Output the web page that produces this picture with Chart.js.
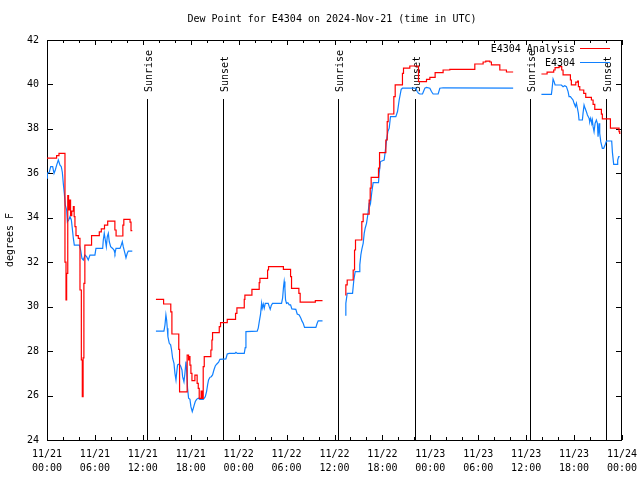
<!DOCTYPE html>
<html><head><meta charset="utf-8">
<script src="https://cdn.jsdelivr.net/npm/chart.js@4/dist/chart.umd.min.js"></script>
<style>html,body{margin:0;padding:0;background:#fff}#wrap{width:640px;height:480px}</style>
</head><body><div id="wrap"><canvas id="c" width="640" height="480"></canvas></div>
<script>
const TITLE = 'Dew Point for E4304 on 2024-Nov-21 (time in UTC)';
const Y_LABEL = 'degrees F';
const X_TICK_DATES = ['11/21','11/21','11/21','11/21','11/22','11/22','11/22','11/22','11/23','11/23','11/23','11/23','11/24'];
const X_TICK_TIMES = ['00:00','06:00','12:00','18:00','00:00','06:00','12:00','18:00','00:00','06:00','12:00','18:00','00:00'];
const SUN_HOURS = [12.48, 22.07, 36.46, 46.1, 60.53, 70.05];
const SUN_LABELS = ['Sunrise','Sunset','Sunrise','Sunset','Sunrise','Sunset'];
const SERIES_NAMES = ['E4304 Analysis', 'E4304'];
const GAP_HOURS = [12, 36, 60];

// hours since 11/21 00:00 UTC, dew point (F)
const analysisSeg1 = [[0,36.68],[1.2,36.8],[1.5,36.9],[2.25,32.0],[2.38,30.3],[2.46,31.5],[2.6,35.0],[2.7,34.35],[2.8,34.8],[2.95,34.1],[3.1,34.3],[3.3,34.5],[3.4,34.05],[3.5,33.6],[3.63,33.2],[3.92,33.07],[4.13,30.75],[4.3,27.6],[4.42,25.95],[4.52,27.7],[4.62,31.05],[4.74,32.77],[5.58,33.2],[6.55,33.37],[6.8,33.5],[7.2,33.67],[7.6,33.85],[8.5,33.45],[8.65,33.18],[9.5,33.67],[9.62,33.93],[10.4,33.8],[10.52,33.42],[10.68,33.42]];
const analysisSeg2 = [[13.64,30.33],[14.6,30.12],[15.5,29.77],[15.64,28.77],[16.5,28.08],[16.6,26.17],[17.55,27.82],[17.73,27.6],[17.81,27.75],[17.9,27.37],[18.02,27.0],[18.15,26.67],[18.52,26.92],[18.8,26.55],[18.94,26.32],[19.06,25.87],[19.3,26.2],[19.45,25.87],[19.56,27.3],[19.69,27.75],[20.52,28.05],[20.65,28.5],[20.73,28.83],[21.57,29.1],[21.73,29.28],[22.57,29.43],[23.61,29.7],[23.78,29.95],[24.7,30.33],[24.78,30.52],[25.66,30.78],[26.57,31.08],[26.66,31.27],[27.62,31.65],[27.74,31.8],[29.6,31.68],[30.5,31.35],[30.62,30.82],[31.54,30.6],[31.7,30.2],[33.6,30.27],[34.5,30.27]];
const analysisSeg3 = [[37.34,30.53],[37.42,30.98],[37.59,31.2],[38.34,31.65],[38.51,32.55],[38.63,33.0],[39.42,33.83],[39.59,34.16],[40.34,34.8],[40.47,35.33],[40.59,35.82],[41.51,36.23],[41.64,36.93],[42.43,37.5],[42.6,38.33],[42.72,38.67],[43.43,39.45],[43.6,39.98],[44.51,40.5],[44.64,40.73],[45.43,40.83],[46.52,40.13],[47.52,40.23],[47.94,40.32],[48.6,40.53],[49.6,40.65],[50.44,40.68],[53.57,40.92],[54.61,41.01],[54.94,41.05],[55.45,41.01],[55.65,40.88],[56.7,40.65],[57.53,40.56],[58.37,40.56]];
const analysisSeg4 = [[61.91,40.47],[62.62,40.55],[63.45,40.65],[63.62,40.76],[64.12,40.8],[64.45,40.65],[64.62,40.43],[65.54,40.2],[65.66,39.98],[66.21,40.1],[66.45,40.15],[66.54,39.9],[66.71,39.75],[67.21,39.6],[67.46,39.42],[68.17,39.3],[68.38,39.1],[68.59,38.88],[69.42,38.66],[69.54,38.45],[70.55,38.03],[71.63,37.88],[71.71,37.8],[71.8,37.8]];

const obsSeg1 = [[0,35.78],[0.04,36.0],[0.29,36.05],[0.46,36.3],[0.71,36.3],[0.88,36.0],[1.04,36.15],[1.21,36.37],[1.42,36.6],[1.63,36.37],[1.79,36.3],[1.92,36.05],[2.04,35.55],[2.17,35.1],[2.29,34.57],[2.46,34.35],[2.55,33.82],[2.71,33.9],[2.88,34.05],[3.05,33.9],[3.17,33.52],[3.3,33.07],[3.42,32.77],[4.05,32.77],[4.21,32.55],[4.38,32.17],[4.55,32.1],[4.76,32.32],[4.96,32.25],[5.17,32.1],[5.38,32.32],[6.0,32.32],[6.13,32.62],[6.97,32.62],[7.05,33.0],[7.17,33.3],[7.3,33.0],[7.43,32.7],[7.55,33.15],[7.68,33.3],[7.8,32.92],[7.97,32.7],[8.22,32.62],[8.39,32.55],[8.51,32.4],[8.64,32.62],[9.14,32.62],[9.3,32.77],[9.43,32.92],[9.55,32.7],[9.76,32.4],[9.89,32.2],[10.05,32.4],[10.18,32.5],[10.68,32.5]];
const obsSeg2 = [[13.64,28.9],[14.64,28.9],[14.77,29.17],[14.89,29.63],[14.98,29.4],[15.06,29.03],[15.14,28.65],[15.31,28.35],[15.48,28.28],[15.6,28.05],[15.73,27.68],[15.9,27.45],[16.02,27.0],[16.15,26.7],[16.23,27.0],[16.35,27.38],[16.56,27.42],[16.73,27.33],[16.9,27.15],[16.98,26.85],[17.15,26.62],[17.27,27.0],[17.4,27.53],[17.48,27.15],[17.6,26.33],[17.73,25.88],[17.9,25.83],[18.02,25.5],[18.19,25.28],[18.32,25.43],[18.44,25.58],[18.57,25.73],[18.73,25.83],[18.94,25.88],[19.15,25.83],[19.57,25.83],[19.69,25.88],[19.82,25.95],[19.98,26.18],[20.11,26.48],[20.23,26.7],[20.4,26.82],[20.57,26.85],[20.73,26.93],[20.9,27.15],[21.07,27.33],[21.24,27.41],[21.49,27.5],[21.65,27.63],[22.4,27.65],[22.57,27.87],[22.82,27.9],[23.53,27.9],[23.66,27.95],[23.82,27.9],[24.7,27.9],[24.82,28.16],[24.91,28.88],[26.32,28.9],[26.45,29.03],[26.58,29.33],[26.74,29.66],[26.87,30.15],[26.95,29.93],[27.08,30.12],[27.2,29.93],[27.33,30.15],[27.7,30.15],[27.83,30.0],[27.95,29.88],[28.08,30.05],[28.24,30.15],[29.37,30.15],[29.5,30.38],[29.62,30.9],[29.7,31.13],[29.79,30.83],[29.87,30.3],[29.99,30.15],[30.16,30.18],[30.33,30.08],[30.5,30.08],[30.66,29.9],[31.16,29.88],[31.33,29.67],[31.58,29.63],[31.79,29.48],[31.92,29.36],[32.08,29.25],[32.25,29.07],[33.67,29.07],[33.83,29.25],[33.96,29.36],[34.5,29.36]];
const obsSeg3 = [[37.34,29.62],[37.42,30.15],[37.59,30.6],[38.26,30.6],[38.42,31.2],[38.59,31.58],[39.09,31.58],[39.17,31.88],[39.3,32.33],[39.42,32.58],[39.59,32.85],[39.72,33.3],[39.84,33.53],[40.01,33.75],[40.18,34.16],[40.34,34.65],[40.43,34.8],[40.51,34.65],[40.68,35.18],[40.84,35.58],[41.51,35.58],[41.59,36.0],[41.76,36.53],[42.22,36.6],[42.35,36.98],[42.51,37.47],[42.68,37.88],[42.85,38.03],[43.01,38.55],[43.68,38.55],[43.89,38.78],[44.1,39.3],[44.35,39.78],[44.51,39.83],[46.18,39.83],[46.35,39.68],[46.52,39.6],[46.68,39.57],[47.02,39.57],[47.31,39.83],[47.52,39.87],[47.94,39.83],[48.14,39.68],[48.35,39.57],[48.98,39.57],[49.19,39.83],[49.6,39.85],[58.37,39.83]];
const obsSeg4 = [[61.91,39.555],[63.16,39.555],[63.25,39.825],[63.37,40.245],[63.5,40.125],[63.62,39.975],[64.41,39.975],[64.62,39.9],[64.83,39.945],[65.04,39.9],[65.25,39.675],[65.37,39.45],[65.54,39.45],[65.71,39.375],[65.87,39.3],[66.0,39.15],[66.17,39.0],[66.29,39.15],[66.42,38.925],[66.54,38.7],[66.62,38.4],[67.04,38.4],[67.12,38.7],[67.25,39.075],[67.38,38.925],[67.54,38.775],[67.67,38.625],[67.88,38.475],[67.96,38.325],[68.08,38.475],[68.21,38.25],[68.29,38.4],[68.38,38.1],[68.5,37.875],[68.63,38.25],[68.79,38.4],[68.92,38.25],[69.0,37.65],[69.13,38.25],[69.21,37.8],[69.34,37.425],[69.54,37.125],[69.71,37.125],[69.88,37.275],[70.05,37.455],[70.71,37.455],[70.8,36.945],[70.96,36.405],[71.38,36.405],[71.46,36.6],[71.59,36.75],[71.71,36.75]];

const FONT = "'DejaVu Sans Mono', 'Liberation Mono', monospace";

function joinSegments(segs) {
  const out = [];
  segs.forEach((seg, i) => {
    seg.forEach(p => out.push({x: p[0], y: p[1]}));
    if (i < segs.length - 1) out.push({x: GAP_HOURS[i], y: null});
  });
  return out;
}

const decor = {
  id: 'decor',
  beforeDatasetsDraw(chart) {
    const {ctx, chartArea: a, scales: {x, y}} = chart;
    ctx.save();
    ctx.strokeStyle = '#000';
    ctx.lineWidth = 1;
    ctx.beginPath();
    for (let h = 0; h <= 72; h += 2) {
      const px = Math.round(x.getPixelForValue(h)) + 0.5;
      const len = (h % 6 === 0) ? 5 : 3;
      ctx.moveTo(px, a.bottom); ctx.lineTo(px, a.bottom - len);
      ctx.moveTo(px, a.top); ctx.lineTo(px, a.top + len);
    }
    for (let v = 24; v <= 42; v += 2) {
      const py = Math.round(y.getPixelForValue(v)) + 0.5;
      ctx.moveTo(a.left, py); ctx.lineTo(a.left + 6, py);
      ctx.moveTo(a.right, py); ctx.lineTo(a.right - 6, py);
    }
    ctx.stroke();
    ctx.strokeRect(a.left + 0.5, a.top + 0.5, a.right - a.left - 1, a.bottom - a.top);
    ctx.fillStyle = '#000';
    ctx.font = '10px ' + FONT;
    SUN_HOURS.forEach((h, i) => {
      const px = Math.round(x.getPixelForValue(h)) + 0.5;
      ctx.beginPath();
      ctx.moveTo(px, a.top + 59);
      ctx.lineTo(px, a.bottom);
      ctx.stroke();
      ctx.save();
      ctx.translate(px + 4, a.top + 52);
      ctx.rotate(-Math.PI / 2);
      ctx.textAlign = 'left';
      ctx.textBaseline = 'alphabetic';
      ctx.fillText(SUN_LABELS[i], 0, 0);
      ctx.restore();
    });
    ctx.restore();
  },
  afterDatasetsDraw(chart) {
    const {ctx, chartArea: a} = chart;
    ctx.save();
    ctx.font = '10px ' + FONT;
    ctx.fillStyle = '#000';
    ctx.textAlign = 'center';
    ctx.textBaseline = 'middle';
    ctx.fillText(TITLE, 332, 19);
    chart.data.datasets.forEach((ds, i) => {
      const yy = a.top + 9 + i * 14;
      ctx.textAlign = 'right';
      ctx.fillStyle = '#000';
      ctx.fillText(ds.label, a.right - 47, yy);
      ctx.strokeStyle = ds.borderColor;
      ctx.lineWidth = 1;
      ctx.beginPath();
      ctx.moveTo(a.right - 42, yy - 0.5);
      ctx.lineTo(a.right - 12, yy - 0.5);
      ctx.stroke();
    });
    ctx.restore();
  }
};

new Chart(document.getElementById('c'), {
  type: 'line',
  data: {
    datasets: [
      { label: SERIES_NAMES[0], data: joinSegments([analysisSeg1, analysisSeg2, analysisSeg3, analysisSeg4]),
        borderColor: '#ff0000', borderWidth: 1.2, pointRadius: 0, stepped: true, spanGaps: false, fill: false },
      { label: SERIES_NAMES[1], data: joinSegments([obsSeg1, obsSeg2, obsSeg3, obsSeg4]),
        borderColor: '#1080ff', borderWidth: 1.2, pointRadius: 0, tension: 0, spanGaps: false, fill: false }
    ]
  },
  options: {
    responsive: false, animation: false, devicePixelRatio: 1,
    layout: { padding: { left: 0, right: 18, top: 40, bottom: 0 } },
    plugins: { legend: { display: false }, title: { display: false }, tooltip: { enabled: false } },
    scales: {
      x: {
        type: 'linear', min: 0, max: 72,
        afterFit: s => { s.height = 40; s.paddingLeft = 0; s.paddingRight = 0; },
        grid: { display: false, drawTicks: false },
        border: { display: false },
        ticks: {
          stepSize: 6, autoSkip: false, maxRotation: 0, padding: 7, color: '#000',
          font: { family: FONT, size: 10, lineHeight: 1.4 },
          callback: v => { const i = Math.round(v / 6); return [X_TICK_DATES[i], X_TICK_TIMES[i]]; }
        }
      },
      y: {
        min: 24, max: 42,
        afterFit: s => { s.width = 47; s.paddingTop = 0; s.paddingBottom = 0; },
        grid: { display: false, drawTicks: false },
        border: { display: false },
        ticks: { stepSize: 2, padding: 8, color: '#000', font: { family: FONT, size: 10 } },
        title: { display: true, text: Y_LABEL, color: '#000', font: { family: FONT, size: 10 }, padding: { top: 4, bottom: 0 } }
      }
    }
  },
  plugins: [decor]
});
</script></body></html>
